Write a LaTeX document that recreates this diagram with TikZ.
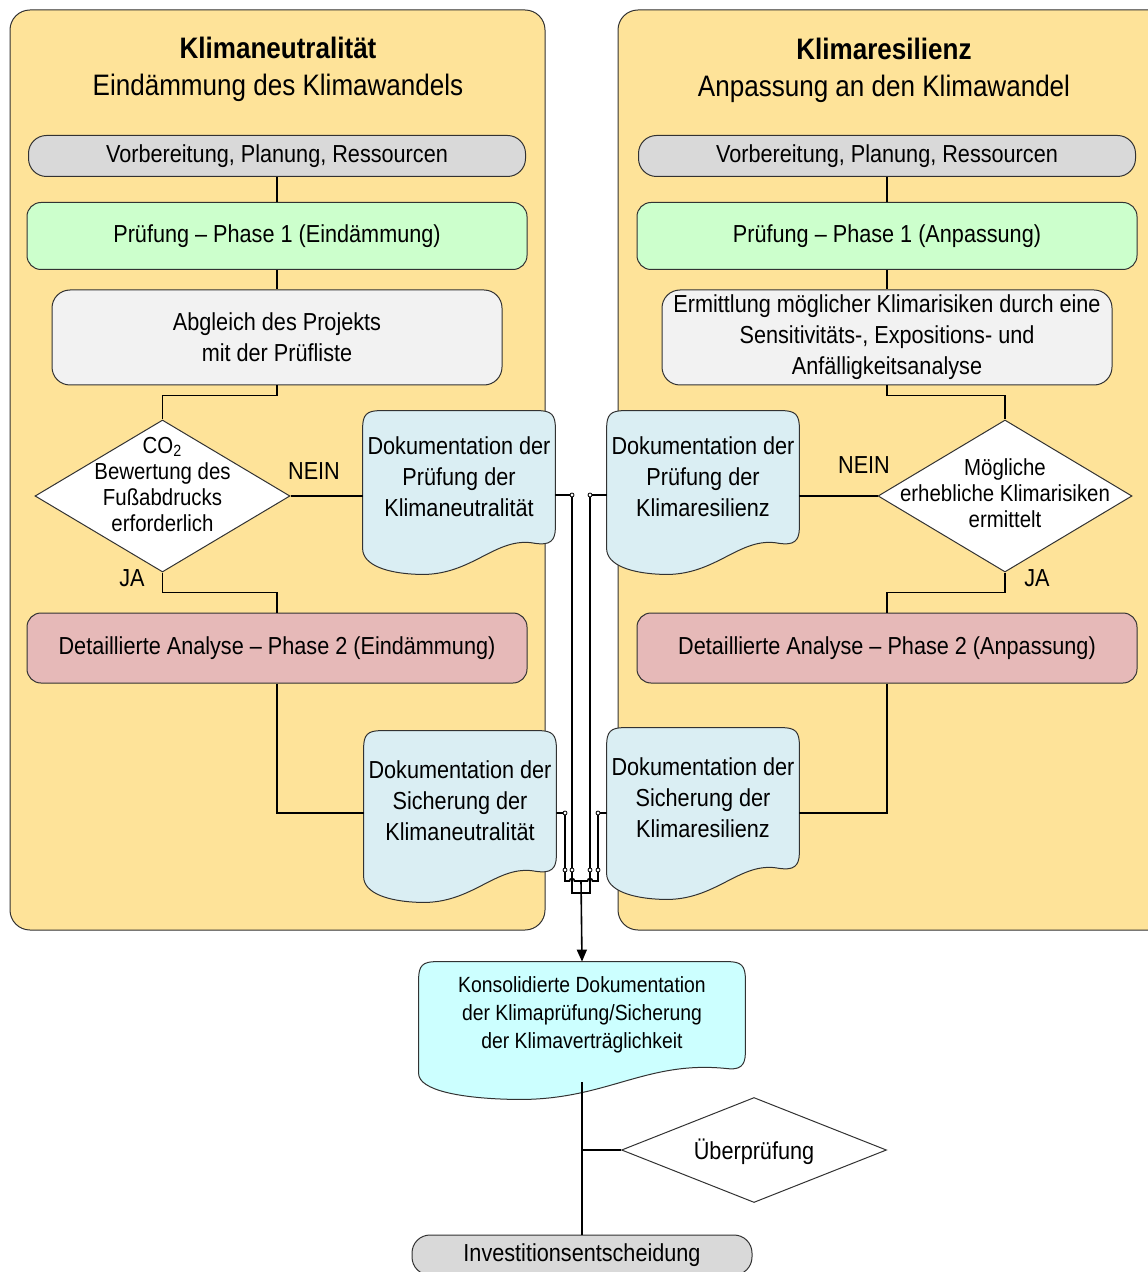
\documentclass[tikz,border=0pt]{standalone}
\usepackage{fontspec}
\setmainfont{Liberation Sans}[FakeStretch=0.88]
\usetikzlibrary{shapes.geometric,arrows.meta,calc}

\definecolor{panelgelb}{RGB}{254,227,153}
\definecolor{grau}{RGB}{217,217,217}
\definecolor{hellgrau}{RGB}{242,242,242}
\definecolor{gruen}{RGB}{204,255,204}
\definecolor{rosa}{RGB}{230,185,184}
\definecolor{dokblau}{RGB}{218,238,243}
\definecolor{tuerkis}{RGB}{204,255,255}
\definecolor{randgrau}{RGB}{50,50,50}

\newcommand{\grundschrift}{\fontsize{12.3}{15.5}\selectfont}
\newcommand{\rautenschrift}{\fontsize{11.6}{13}\selectfont}
\newcommand{\titelschrift}{\fontsize{14.8}{18.5}\selectfont}
\newcommand{\konsolschrift}{\fontsize{11}{14}\selectfont}

% text of a diamond, without size of its own
\newcommand{\rautentext}[2][0pt]{\raisebox{#1}[0pt][0pt]{\makebox[0pt]{\begin{tabular}{@{}c@{}}#2\end{tabular}}}}

\pgfdeclarelayer{background}
\pgfsetlayers{background,main}

% document shape with wavy bottom, drawn behind node #1
\newcommand{\dokform}[2]{%
  \begin{pgfonlayer}{background}
    \draw[draw=randgrau, line width=0.5pt, fill=#2]
      ($(#1.south west)+(0,5)$) -- ($(#1.north west)+(0,18)$)
      .. controls ($(#1.north west)+(0,4)$) and ($(#1.north west)+(4,0)$) .. ($(#1.north west)+(18,0)$)
      -- ($(#1.north east)+(-18,0)$)
      .. controls ($(#1.north east)+(-4,0)$) and ($(#1.north east)+(0,4)$) .. ($(#1.north east)+(0,18)$)
      -- ($(#1.south east)+(0,-16)$)
      .. controls ($(#1.south east)+(0,-2)$) and ($(#1.south east)+(-6,2)$) .. ($(#1.south east)+(-20,0)$)
      .. controls ($(#1.south west)!0.69!(#1.south east)+(0,-8)$) and ($(#1.south west)!0.57!(#1.south east)+(0,33)$) .. ($(#1.south west)!0.29!(#1.south east)+(0,31)$)
      .. controls ($(#1.south west)!0.13!(#1.south east)+(0,30)$) and ($(#1.south west)+(0,22)$) .. cycle;
  \end{pgfonlayer}}

\tikzset{
  panel/.style={draw=randgrau, line width=0.5pt, fill=panelgelb, rounded corners=10pt},
  box/.style={draw=randgrau, line width=0.5pt, align=center, font=\grundschrift, inner sep=1pt},
  startbox/.style={box, fill=grau, rounded corners=9pt, minimum width=248.5pt, minimum height=20.5pt},
  phaseeins/.style={box, fill=gruen, rounded corners=7pt, minimum width=250pt, minimum height=33.5pt},
  analysebox/.style={box, fill=hellgrau, rounded corners=9pt, minimum width=225pt, minimum height=47.5pt},
  phasezwei/.style={box, fill=rosa, rounded corners=7pt, minimum width=250pt, minimum height=35pt},
  entscheid/.style={box, diamond, fill=white, inner sep=0pt, font=\rautenschrift},
  doku/.style={align=center, font=\grundschrift, inner sep=1pt, minimum width=96pt, minimum height=70pt},
  titel/.style={align=center, font=\titelschrift},
  marke/.style={font=\grundschrift, inner sep=1pt},
  linie/.style={line width=0.8pt},
  punkt/.style={draw=black, fill=white, line width=0.4pt}
}

\begin{document}
\begin{tikzpicture}[x=0.5pt, y=-0.5pt]
  \clip (0,0) rectangle (1147,1272);

  % panels
  \begin{pgfonlayer}{background}
    \draw[panel] (10,10) rectangle (545,930);
    \draw[panel] (618,10) rectangle (1180,930);
  \end{pgfonlayer}

  % Klimaneutralitaet
  \node[titel] (titelN) at (278,69) {\textbf{Klimaneutralität}\\Eindämmung des Klimawandels};
  \node[startbox] (vorN) at (277,156) {Vorbereitung, Planung, Ressourcen};
  \node[phaseeins] (pruefN) at (277,236) {Prüfung -- Phase 1 (Eindämmung)};
  \node[analysebox] (abgN) at (277,337.5) {Abgleich des Projekts\\mit der Prüfliste};
  \node[entscheid, minimum width=127.5pt, minimum height=76pt] (entN) at (162.5,496)
    {\rautentext[1.5pt]{CO\textsubscript{2}\\Bewertung des\\Fußabdrucks\\erforderlich}};
  \node[marke] (neinN) at (314,471) {NEIN};
  \node[doku, minimum height=66pt] (dokNA) at (459,477) {Dokumentation der\\Prüfung der\\Klimaneutralität};
  \node[marke] (jaN) at (132,578) {JA};
  \node[phasezwei] (anaN) at (277,648) {Detaillierte Analyse -- Phase 2 (Eindämmung)};
  \node[doku] (dokNB) at (460,801) {Dokumentation der\\Sicherung der\\Klimaneutralität};

  % Klimaresilienz
  \node[titel] (titelR) at (884,70) {\textbf{Klimaresilienz}\\Anpassung an den Klimawandel};
  \node[startbox] (vorR) at (887,156) {Vorbereitung, Planung, Ressourcen};
  \node[phaseeins] (pruefR) at (887,236) {Prüfung -- Phase 1 (Anpassung)};
  \node[analysebox] (ermR) at (887,337.5) {Ermittlung möglicher Klimarisiken durch eine\\Sensitivitäts-, Expositions- und\\Anfälligkeitsanalyse};
  \node[entscheid, minimum width=127pt, minimum height=76pt] (entR) at (1005,496)
    {\rautentext[-3pt]{Mögliche\\erhebliche Klimarisiken\\ermittelt}};
  \node[marke] (neinR) at (864,465) {NEIN};
  \node[doku, minimum height=66pt] (dokRA) at (703,477) {Dokumentation der\\Prüfung der\\Klimaresilienz};
  \node[marke] (jaR) at (1037,578) {JA};
  \node[phasezwei] (anaR) at (887,648) {Detaillierte Analyse -- Phase 2 (Anpassung)};
  \node[doku] (dokRB) at (703,798) {Dokumentation der\\Sicherung der\\Klimaresilienz};

  % bottom
  \node[doku, font=\konsolschrift, minimum width=163pt, minimum height=53pt] (konsol) at (582,1015)
    {Konsolidierte Dokumentation\\der Klimaprüfung/Sicherung\\der Klimaverträglichkeit};
  \node[entscheid, minimum width=132.5pt, minimum height=52.5pt] (pruef) at (754,1150)
    {\rautentext[-4.5pt]{\grundschrift Überprüfung}};
  \node[startbox, minimum width=170pt, minimum height=20pt] (invest) at (582,1255) {Investitionsentscheidung};

  \dokform{dokNA}{dokblau}
  \dokform{dokNB}{dokblau}
  \dokform{dokRA}{dokblau}
  \dokform{dokRB}{dokblau}
  \dokform{konsol}{tuerkis}

  \coordinate (dokNA-o) at ($(dokNA.east)+(0,18)$);
  \coordinate (dokNB-o) at ($(dokNB.east)+(0,12)$);
  \coordinate (dokRA-w) at ($(dokRA.west)+(0,18)$);
  \coordinate (dokRB-w) at ($(dokRB.west)+(0,15)$);

  % left flow
  \draw[linie] (vorN) -- (pruefN);
  \draw[linie] (pruefN) -- (abgN);
  \draw[linie] (abgN.south) -- ++(0,10) -| (entN.north);
  \draw[linie] (entN.east) -- (entN.east -| dokNA.west);
  \draw[linie] (entN.south) -- ++(0,20) -| (anaN.north);
  \draw[linie] (anaN.south) |- ($(dokNB.west)+(0,12)$);

  % right flow
  \draw[linie] (vorR) -- (pruefR);
  \draw[linie] (pruefR) -- (ermR);
  \draw[linie] (ermR.south) -- ++(0,10) -| (entR.north);
  \draw[linie] (entR.west) -- (entR.west -| dokRA.east);
  \draw[linie] (entR.south) -- ++(0,20) -| (anaR.north);
  \draw[linie] (anaR.south) |- ($(dokRB.east)+(0,15)$);

  % collecting the documentation
  \coordinate (knoten) at (581,881);
  \coordinate (kasten) at (581,893);
  \draw[linie] (dokNA-o) -- (572,495) -- (572,893) -- (kasten);
  \draw[linie] (dokRA-w) -- (590,495) -- (590,893) -- (kasten);
  \draw[linie] (dokNB-o) -- (565,813) -- (565,881) -- (569.5,881)
    arc[start angle=180, end angle=0, radius=1.25pt] -- (knoten);
  \draw[linie] (dokRB-w) -- (598,813) -- (598,881) -- (592.5,881)
    arc[start angle=0, end angle=180, radius=1.25pt] -- (knoten);
  \foreach \x/\y in {572/495, 590/495, 565/813, 598/813, 565/870, 572/870, 590/870, 598/870}
    \draw[punkt] (\x,\y) circle (1pt);
  \draw[linie, -{Triangle[length=6pt, width=5pt]}] (knoten) -- (konsol.north);

  \draw[linie] ($(konsol.south)+(0,14)$) -- (invest.north);
  \draw[linie] (pruef.west) -- (pruef.west -| invest.north);
\end{tikzpicture}
\end{document}
